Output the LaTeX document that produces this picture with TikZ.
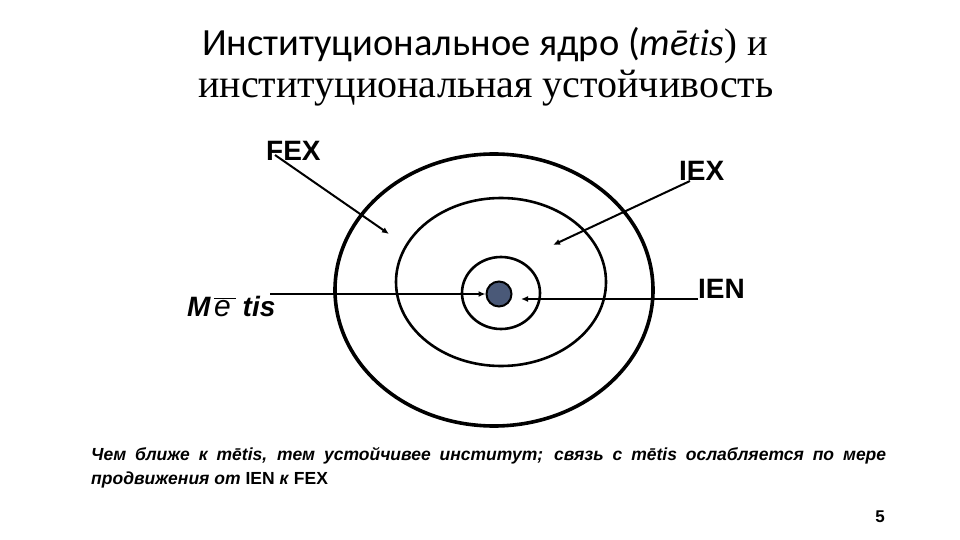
\documentclass[tikz,border=0pt]{standalone}
\usepackage{fontspec}
\setmainfont{Liberation Serif}
\newfontfamily\arialfont{Liberation Sans}
\newfontfamily\calfont{Carlito}
\usepackage{tikz}
\usetikzlibrary{arrows.meta}
\usetikzlibrary{calc}
\definecolor{coreslate}{rgb}{0.29, 0.35, 0.47}

\tikzset{
	lbl/.style={font=\arialfont\bfseries\fontsize{28}{30}\selectfont, inner sep=0pt},
	ring/.style={draw, ellipse, inner sep=0pt},
	pointer/.style={line width=2pt, -{Latex[length=7pt,width=6pt]}}
}

\begin{document}
\begin{tikzpicture}[x=1pt, y=-1pt]
	\useasboundingbox (0,0) rectangle (960,540);

	% title
	\node[anchor=base, font=\fontsize{38.5}{40}\selectfont] (title1) at (485,56) {{\calfont Институциональное ядро (\textit{mē}}\textit{tis}) и};
	\node[anchor=base, font=\fontsize{40}{42}\selectfont] (title2) at (486,98) {институциональная устойчивость};

	% rings
	\draw[line width=3.6pt] (494,290) ellipse (159 and 136);
	\draw[line width=2.6pt] (501,282) ellipse (105 and 84);
	\draw[line width=2.6pt] (501,293) ellipse (39 and 36);
	\node[circle, draw, line width=2pt, fill=coreslate, minimum size=25pt, inner sep=0pt] (core) at (499,294) {};

	% labels
	\node[lbl, anchor=south west] (fex) at (266,161) {FEX};
	\node[lbl, anchor=south west] (iex) at (679,181) {IEX};
	\node[lbl, anchor=south west] (ien) at (698,299) {IEN};
	\node[lbl, anchor=base west] (metis) at (187,316)
		{\textit{M}\hspace{3pt}{\normalfont\arialfont\itshape\fontsize{30}{30}\selectfont$\overline{\mbox{e\,}}$}\hspace{7pt}\textit{tis}};

	\coordinate (fexend) at (389,234);
	\coordinate (iexend) at (553,245);
	\coordinate (ienend) at (521,299);

	% arrows
	\draw[pointer] ([xshift=9pt,yshift=6pt]fex.south west) -- (fexend);
	\draw[pointer] ([xshift=11pt]iex.south west) -- (iexend);
	\draw[pointer] (ien.south west) -- (ienend);
	\draw[pointer] (270,294) -- (core.west);

	% caption
	\node[anchor=north west, inner sep=0pt, text width=795pt, align=justify,
		font=\arialfont\bfseries\itshape\fontsize{17.5}{24}\selectfont] (caption) at (91,447)
		{Чем ближе к mētis, тем устойчивее институт; связь с mētis ослабляется по мере\linebreak
		продвижения от \textup{IEN} к \textup{FEX}};

	\node[font=\arialfont\bfseries\fontsize{17}{20}\selectfont, anchor=base] (pagenum) at (880,522) {5};
\end{tikzpicture}
\end{document}
